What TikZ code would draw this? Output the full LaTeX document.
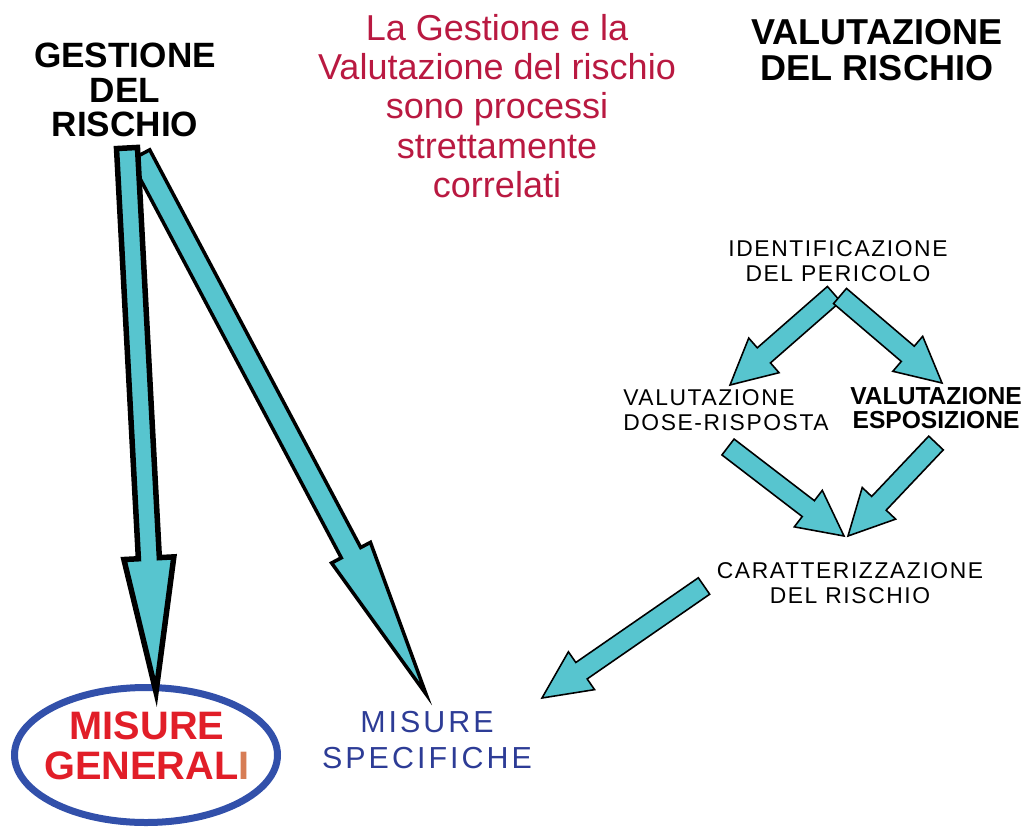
\documentclass[tikz,border=0pt]{standalone}
\usepackage{tikz, xcolor}
\usepackage{fontspec}
\setmainfont{Liberation Sans}
\usetikzlibrary{calc, shapes.geometric}
\newcommand{\unitsize}{0.2cm}
\definecolor{arrowcyan}{RGB}{87,197,207}
\definecolor{notered}{RGB}{185,25,65}
\definecolor{misred}{RGB}{225,30,40}
\definecolor{misblue}{RGB}{45,60,150}
\definecolor{ellblue}{RGB}{50,80,170}
\definecolor{lastorange}{RGB}{215,125,85}
% block arrow: style, from, to, shaft half width, head half width, head length
\newcommand{\blockarrow}[6]{%
  \coordinate (#2h) at ($(#3)!#6*\unitsize!(#2)$);
  \draw[#1] ($(#2)!#4*\unitsize!90:(#3)$) -- ($(#2h)!#4*\unitsize!90:(#3)$)
    -- ($(#2h)!#5*\unitsize!90:(#3)$) -- (#3)
    -- ($(#2h)!#5*\unitsize!-90:(#3)$) -- ($(#2h)!#4*\unitsize!-90:(#3)$)
    -- ($(#2)!#4*\unitsize!-90:(#3)$) -- cycle;
}

\begin{document}
\begin{tikzpicture}
\useasboundingbox (0*\unitsize,0*\unitsize) rectangle (102.9*\unitsize,-82.8*\unitsize);
\tikzstyle{every node}=[align=center, inner sep=0pt]
\tikzstyle{heading}=[font=\fontsize{20}{19.8}\selectfont\bfseries]
\tikzstyle{note}=[font=\fontsize{20.5}{22.3}\selectfont, text=notered]
\tikzstyle{stage}=[font=\fontsize{13}{14.2}\selectfont\addfontfeature{LetterSpace=7}]
\tikzstyle{fatarrow}=[fill=arrowcyan, draw=black, line width=0.11cm]
\tikzstyle{midarrow}=[fill=arrowcyan, draw=black, line width=0.07cm]
\tikzstyle{thinarrow}=[fill=arrowcyan, draw=black, line width=0.9pt]

% titles
\node[heading] (gestione) at (12.5*\unitsize,-9.0*\unitsize) {GESTIONE\\DEL\\RISCHIO};
\node[heading, font=\fontsize{20.5}{20.5}\selectfont\bfseries] (valutazione) at (87.7*\unitsize,-5.0*\unitsize) {VALUTAZIONE\\DEL RISCHIO};
\node[note] (correlati) at (49.7*\unitsize,-10.6*\unitsize) {La Gestione e la\\Valutazione del rischio\\sono processi\\strettamente\\correlati};

% valutazione steps
\node[stage] (pericolo) at (83.8*\unitsize,-26.1*\unitsize) {IDENTIFICAZIONE\\DEL PERICOLO};
\node[stage, align=left] (dose) at (72.6*\unitsize,-41.0*\unitsize) {VALUTAZIONE\\DOSE-RISPOSTA};
\node[stage, font=\fontsize{14}{14}\selectfont\bfseries] (esposizione) at (93.6*\unitsize,-40.8*\unitsize) {VALUTAZIONE\\ESPOSIZIONE};
\node[stage] (caratt) at (85.0*\unitsize,-58.3*\unitsize) {CARATTERIZZAZIONE\\DEL RISCHIO};

% misure
\node[draw=ellblue, line width=0.14cm, ellipse, minimum width=26.3*\unitsize, minimum height=13.5*\unitsize] (cerchio) at (14.6*\unitsize,-75.5*\unitsize) {};
\node[font=\fontsize{22.6}{22.8}\selectfont\bfseries, text=misred] (generali) at (14.7*\unitsize,-74.6*\unitsize)
      {MISURE\\GENERAL\textcolor{lastorange}{I}};
\node[font=\fontsize{17.3}{20}\selectfont\addfontfeature{LetterSpace=10}, text=misblue] (specifiche) at (42.7*\unitsize,-74.0*\unitsize) {MISURE\\SPECIFICHE};

% arrow ends
\coordinate (g1) at (12.7*\unitsize,-14.8*\unitsize);
\coordinate (g1t) at (15.6*\unitsize,-69.2*\unitsize);
\coordinate (g2) at (14.0*\unitsize,-15.5*\unitsize);
\coordinate (g2t) at (42.6*\unitsize,-69.4*\unitsize);
\coordinate (p1) at (83.4*\unitsize,-29.4*\unitsize);
\coordinate (p1t) at (73.0*\unitsize,-38.5*\unitsize);
\coordinate (p2) at (84.0*\unitsize,-29.6*\unitsize);
\coordinate (p2t) at (94.2*\unitsize,-38.3*\unitsize);
\coordinate (d1) at (72.8*\unitsize,-44.7*\unitsize);
\coordinate (d1t) at (84.4*\unitsize,-53.6*\unitsize);
\coordinate (e1) at (93.6*\unitsize,-44.3*\unitsize);
\coordinate (e1t) at (84.8*\unitsize,-53.6*\unitsize);
\coordinate (c1) at (70.4*\unitsize,-58.6*\unitsize);
\coordinate (c1t) at (54.2*\unitsize,-69.8*\unitsize);

\blockarrow{midarrow}{g2}{g2t}{1.1}{2.2}{16.0}
\blockarrow{fatarrow}{g1}{g1t}{1.05}{2.5}{13.4}
\blockarrow{thinarrow}{p1}{p1t}{1.0}{2.3}{4.5}
\blockarrow{thinarrow}{p2}{p2t}{1.0}{2.3}{4.5}
\blockarrow{thinarrow}{d1}{d1t}{1.0}{2.3}{4.5}
\blockarrow{thinarrow}{e1}{e1t}{1.0}{2.3}{4.5}
\blockarrow{thinarrow}{c1}{c1t}{1.0}{2.3}{4.8}
\end{tikzpicture}
\end{document}
